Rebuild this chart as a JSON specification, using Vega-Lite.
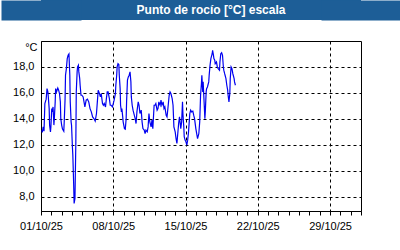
{
  "$schema": "https://vega.github.io/schema/vega-lite/v6.json",
  "background": "#ffffff",
  "padding": {"left": 0, "top": 0, "right": 40, "bottom": 19},
  "autosize": {"type": "pad"},
  "columns": 1,
  "spacing": 20,
  "config": {
    "font": "Liberation Sans"
  },
  "concat": [
    {
      "width": 320,
      "height": 20,
      "view": {"fill": "#1d5e97", "stroke": null},
      "data": {"values": [{"title": "Punto de rocío [°C] escala"}]},
      "layer": [
        {
          "mark": {"type": "text", "font": "Liberation Sans", "fontWeight": "bold", "fontSize": 12, "color": "#ffffff", "baseline": "middle", "align": "center", "dx": 10},
          "encoding": {
            "text": {"field": "title", "type": "nominal"},
            "y": {"field": "title", "type": "nominal", "axis": {"orient": "left", "title": null, "labels": false, "ticks": false, "grid": false, "domain": true, "domainColor": "#1d5e97", "domainWidth": 80, "domainCap": "butt", "offset": 0, "minExtent": 0, "maxExtent": 0}}
          }
        },
        {
          "mark": {"type": "text", "fontSize": 12, "opacity": 0},
          "encoding": {
            "text": {"field": "title", "type": "nominal"},
            "y": {"field": "title", "type": "nominal", "axis": {"orient": "right", "title": null, "labels": false, "ticks": false, "grid": false, "domain": true, "domainColor": "#1d5e97", "domainWidth": 80, "domainCap": "butt", "offset": 0, "minExtent": 0, "maxExtent": 0}}
          }
        }
      ],
      "resolve": {"axis": {"y": "independent"}}
    },
    {
      "width": 320,
      "height": 170,
      "view": {"fill": "#ffffff", "stroke": "#000000", "strokeWidth": 1},
      "data": {"values": [
        {"t":"2025-10-01T02:00","v":13.13},{"t":"2025-10-01T03:00","v":12.95},{"t":"2025-10-01T05:00","v":13.38},{"t":"2025-10-01T07:00","v":13.05},
        {"t":"2025-10-01T09:00","v":15.18},{"t":"2025-10-01T12:00","v":15.52},{"t":"2025-10-01T14:00","v":16.33},{"t":"2025-10-01T16:00","v":16.08},
        {"t":"2025-10-01T17:00","v":15.69},{"t":"2025-10-01T19:00","v":14.79},{"t":"2025-10-01T20:00","v":13.52},{"t":"2025-10-01T22:00","v":13.0},
        {"t":"2025-10-01T23:00","v":13.38},{"t":"2025-10-02T01:00","v":14.79},{"t":"2025-10-02T02:00","v":14.54},{"t":"2025-10-02T04:00","v":14.92},
        {"t":"2025-10-02T06:00","v":13.52},{"t":"2025-10-02T07:00","v":14.02},{"t":"2025-10-02T09:00","v":15.31},{"t":"2025-10-02T10:00","v":16.33},
        {"t":"2025-10-02T12:00","v":16.08},{"t":"2025-10-02T15:00","v":16.38},{"t":"2025-10-02T17:00","v":16.21},{"t":"2025-10-02T19:00","v":15.95},
        {"t":"2025-10-02T21:00","v":15.31},{"t":"2025-10-02T22:00","v":14.02},{"t":"2025-10-03T00:00","v":13.52},{"t":"2025-10-03T02:00","v":13.21},
        {"t":"2025-10-03T05:00","v":13.05},{"t":"2025-10-03T06:00","v":13.77},{"t":"2025-10-03T08:00","v":15.56},{"t":"2025-10-03T09:00","v":17.36},
        {"t":"2025-10-03T11:00","v":17.87},{"t":"2025-10-03T13:00","v":18.64},{"t":"2025-10-03T15:00","v":18.9},{"t":"2025-10-03T17:00","v":19.0},
        {"t":"2025-10-03T19:00","v":17.36},{"t":"2025-10-03T20:00","v":15.31},{"t":"2025-10-03T22:00","v":13.77},{"t":"2025-10-03T23:00","v":13.52},
        {"t":"2025-10-04T01:00","v":11.85},{"t":"2025-10-04T02:00","v":11.21},{"t":"2025-10-04T04:00","v":8.9},{"t":"2025-10-04T05:00","v":7.48},
        {"t":"2025-10-04T07:00","v":7.87},{"t":"2025-10-04T09:00","v":12.23},{"t":"2025-10-04T10:00","v":16.08},{"t":"2025-10-04T12:00","v":17.62},
        {"t":"2025-10-04T13:00","v":18.0},{"t":"2025-10-04T15:00","v":18.13},{"t":"2025-10-04T16:00","v":17.62},{"t":"2025-10-04T18:00","v":17.1},
        {"t":"2025-10-04T19:00","v":16.59},{"t":"2025-10-04T21:00","v":15.82},{"t":"2025-10-04T23:00","v":15.82},{"t":"2025-10-05T02:00","v":15.69},
        {"t":"2025-10-05T04:00","v":15.31},{"t":"2025-10-05T06:00","v":14.92},{"t":"2025-10-05T09:00","v":15.44},{"t":"2025-10-05T12:00","v":15.52},
        {"t":"2025-10-05T15:00","v":15.31},{"t":"2025-10-05T18:00","v":14.79},{"t":"2025-10-05T21:00","v":14.54},{"t":"2025-10-06T00:00","v":14.15},
        {"t":"2025-10-06T03:00","v":14.02},{"t":"2025-10-06T06:00","v":13.82},{"t":"2025-10-06T09:00","v":14.41},{"t":"2025-10-06T11:00","v":15.31},
        {"t":"2025-10-06T13:00","v":16.21},{"t":"2025-10-06T16:00","v":15.95},{"t":"2025-10-06T18:00","v":15.69},{"t":"2025-10-06T20:00","v":15.95},
        {"t":"2025-10-06T23:00","v":15.18},{"t":"2025-10-07T01:00","v":15.05},{"t":"2025-10-07T03:00","v":15.18},{"t":"2025-10-07T06:00","v":14.92},
        {"t":"2025-10-07T08:00","v":15.56},{"t":"2025-10-07T10:00","v":16.08},{"t":"2025-10-07T12:00","v":16.08},{"t":"2025-10-07T15:00","v":15.56},
        {"t":"2025-10-07T17:00","v":15.05},{"t":"2025-10-07T19:00","v":15.05},{"t":"2025-10-07T22:00","v":14.92},{"t":"2025-10-08T00:00","v":15.18},
        {"t":"2025-10-08T02:00","v":15.44},{"t":"2025-10-08T05:00","v":15.95},{"t":"2025-10-08T06:00","v":16.59},{"t":"2025-10-08T08:00","v":17.36},
        {"t":"2025-10-08T09:00","v":18.0},{"t":"2025-10-08T11:00","v":18.25},{"t":"2025-10-08T13:00","v":18.18},{"t":"2025-10-08T14:00","v":17.36},
        {"t":"2025-10-08T16:00","v":16.33},{"t":"2025-10-08T17:00","v":15.05},{"t":"2025-10-08T19:00","v":14.54},{"t":"2025-10-08T20:00","v":14.79},
        {"t":"2025-10-08T22:00","v":14.15},{"t":"2025-10-08T23:00","v":13.77},{"t":"2025-10-09T02:00","v":13.25},{"t":"2025-10-09T04:00","v":13.21},
        {"t":"2025-10-09T06:00","v":14.02},{"t":"2025-10-09T07:00","v":15.31},{"t":"2025-10-09T09:00","v":16.98},{"t":"2025-10-09T11:00","v":17.23},
        {"t":"2025-10-09T13:00","v":17.36},{"t":"2025-10-09T15:00","v":17.62},{"t":"2025-10-09T17:00","v":16.85},{"t":"2025-10-09T18:00","v":15.69},
        {"t":"2025-10-09T20:00","v":15.05},{"t":"2025-10-09T22:00","v":14.67},{"t":"2025-10-10T00:00","v":14.41},{"t":"2025-10-10T03:00","v":14.02},
        {"t":"2025-10-10T05:00","v":13.64},{"t":"2025-10-10T07:00","v":14.54},{"t":"2025-10-10T10:00","v":15.31},{"t":"2025-10-10T12:00","v":15.05},
        {"t":"2025-10-10T14:00","v":14.41},{"t":"2025-10-10T17:00","v":14.67},{"t":"2025-10-10T19:00","v":13.77},{"t":"2025-10-10T21:00","v":13.25},
        {"t":"2025-10-11T00:00","v":13.13},{"t":"2025-10-11T02:00","v":12.87},{"t":"2025-10-11T04:00","v":13.13},{"t":"2025-10-11T07:00","v":13.0},
        {"t":"2025-10-11T09:00","v":13.38},{"t":"2025-10-11T11:00","v":14.41},{"t":"2025-10-11T13:00","v":13.77},{"t":"2025-10-11T16:00","v":13.38},
        {"t":"2025-10-11T18:00","v":13.9},{"t":"2025-10-11T20:00","v":13.25},{"t":"2025-10-11T23:00","v":15.05},{"t":"2025-10-12T01:00","v":15.05},
        {"t":"2025-10-12T03:00","v":15.18},{"t":"2025-10-12T06:00","v":14.67},{"t":"2025-10-12T08:00","v":14.79},{"t":"2025-10-12T10:00","v":15.31},
        {"t":"2025-10-12T13:00","v":15.05},{"t":"2025-10-12T15:00","v":15.44},{"t":"2025-10-12T17:00","v":15.05},{"t":"2025-10-12T20:00","v":15.31},
        {"t":"2025-10-12T22:00","v":14.79},{"t":"2025-10-13T00:00","v":14.92},{"t":"2025-10-13T03:00","v":14.28},{"t":"2025-10-13T05:00","v":14.15},
        {"t":"2025-10-13T07:00","v":14.79},{"t":"2025-10-13T10:00","v":15.82},{"t":"2025-10-13T12:00","v":16.08},{"t":"2025-10-13T14:00","v":15.95},
        {"t":"2025-10-13T17:00","v":15.56},{"t":"2025-10-13T19:00","v":15.05},{"t":"2025-10-13T21:00","v":13.38},{"t":"2025-10-14T00:00","v":13.0},
        {"t":"2025-10-14T02:00","v":12.48},{"t":"2025-10-14T04:00","v":12.1},{"t":"2025-10-14T06:00","v":12.87},{"t":"2025-10-14T08:00","v":13.64},
        {"t":"2025-10-14T10:00","v":14.15},{"t":"2025-10-14T13:00","v":13.25},{"t":"2025-10-14T15:00","v":13.77},{"t":"2025-10-14T17:00","v":15.31},
        {"t":"2025-10-14T18:00","v":14.38},{"t":"2025-10-14T20:00","v":13.38},{"t":"2025-10-14T21:00","v":12.62},{"t":"2025-10-14T23:00","v":12.36},
        {"t":"2025-10-15T01:00","v":12.23},{"t":"2025-10-15T03:00","v":11.98},{"t":"2025-10-15T05:00","v":12.36},{"t":"2025-10-15T07:00","v":13.0},
        {"t":"2025-10-15T10:00","v":14.41},{"t":"2025-10-15T12:00","v":14.67},{"t":"2025-10-15T14:00","v":14.54},{"t":"2025-10-15T17:00","v":14.59},
        {"t":"2025-10-15T19:00","v":14.28},{"t":"2025-10-15T21:00","v":14.02},{"t":"2025-10-16T00:00","v":13.25},{"t":"2025-10-16T02:00","v":12.87},
        {"t":"2025-10-16T04:00","v":12.48},{"t":"2025-10-16T07:00","v":12.87},{"t":"2025-10-16T09:00","v":13.77},{"t":"2025-10-16T11:00","v":15.82},
        {"t":"2025-10-16T13:00","v":16.72},{"t":"2025-10-16T14:00","v":17.36},{"t":"2025-10-16T16:00","v":16.08},{"t":"2025-10-16T17:00","v":16.85},
        {"t":"2025-10-16T19:00","v":15.44},{"t":"2025-10-16T21:00","v":14.02},{"t":"2025-10-16T22:00","v":14.54},{"t":"2025-10-17T00:00","v":16.08},
        {"t":"2025-10-17T01:00","v":16.33},{"t":"2025-10-17T03:00","v":16.46},{"t":"2025-10-17T04:00","v":16.59},{"t":"2025-10-17T06:00","v":16.85},
        {"t":"2025-10-17T07:00","v":17.36},{"t":"2025-10-17T09:00","v":18.13},{"t":"2025-10-17T11:00","v":18.64},{"t":"2025-10-17T14:00","v":19.02},
        {"t":"2025-10-17T15:00","v":19.28},{"t":"2025-10-17T17:00","v":18.9},{"t":"2025-10-17T18:00","v":18.64},{"t":"2025-10-17T20:00","v":18.52},
        {"t":"2025-10-17T21:00","v":18.25},{"t":"2025-10-18T00:00","v":18.38},{"t":"2025-10-18T02:00","v":18.0},{"t":"2025-10-18T04:00","v":17.87},
        {"t":"2025-10-18T07:00","v":17.75},{"t":"2025-10-18T08:00","v":18.38},{"t":"2025-10-18T10:00","v":19.02},{"t":"2025-10-18T12:00","v":19.1},
        {"t":"2025-10-18T14:00","v":18.9},{"t":"2025-10-18T16:00","v":18.0},{"t":"2025-10-18T17:00","v":17.75},{"t":"2025-10-18T19:00","v":17.48},
        {"t":"2025-10-18T20:00","v":17.36},{"t":"2025-10-18T22:00","v":17.1},{"t":"2025-10-19T00:00","v":16.59},{"t":"2025-10-19T02:00","v":16.21},
        {"t":"2025-10-19T03:00","v":15.82},{"t":"2025-10-19T05:00","v":15.31},{"t":"2025-10-19T07:00","v":15.95},{"t":"2025-10-19T08:00","v":17.1},
        {"t":"2025-10-19T10:00","v":18.0},{"t":"2025-10-19T12:00","v":17.87},{"t":"2025-10-19T14:00","v":17.48},{"t":"2025-10-19T15:00","v":17.36},
        {"t":"2025-10-19T17:00","v":17.1},{"t":"2025-10-19T18:00","v":16.85},{"t":"2025-10-19T20:00","v":16.59}
      ]},
      "mark": {"type": "line", "color": "#0000f0", "strokeWidth": 1.2, "clip": true},
      "encoding": {
        "x": {
          "field": "t", "type": "temporal",
          "scale": {"domain": [{"year": 2025, "month": 10, "date": 1}, {"year": 2025, "month": 11, "date": 1}], "nice": false},
          "axis": {
            "title": null,
            "tickCount": {"interval": "day", "step": 1},
            "labelExpr": "round((datum.value - datetime(2025,9,1)) / 86400000) % 7 == 0 ? timeFormat(datum.value, '%d/%m/%y') : ''",
            "labelFlush": false,
            "labelOverlap": false,
            "labelBound": false,
            "labelFont": "Liberation Sans",
            "labelFontSize": 11,
            "labelColor": "#000000",
            "labelPadding": 5,
            "tickSize": 4,
            "tickColor": "#000000",
            "tickWidth": 1,
            "domain": true,
            "domainColor": "#000000",
            "grid": true,
            "gridColor": "#000000",
            "gridDash": [3, 3],
            "gridWidth": 1,
            "gridOpacity": {"condition": {"test": "round((datum.value - datetime(2025,9,1)) / 86400000) % 7 == 0", "value": 1}, "value": 0}
          }
        },
        "y": {
          "field": "v", "type": "quantitative",
          "scale": {"domain": [6.9, 20], "nice": false, "zero": false},
          "axis": {
            "values": [8, 10, 12, 14, 16, 18],
            "labelExpr": "replace(format(datum.value, '.1f'), '.', ',')",
            "labelFont": "Liberation Sans",
            "labelFontSize": 11,
            "labelColor": "#000000",
            "labelPadding": 7,
            "ticks": false,
            "domain": false,
            "grid": true,
            "gridColor": "#000000",
            "gridDash": [3, 3],
            "gridWidth": 1,
            "gridOpacity": 1,
            "minExtent": 40,
            "title": "°C",
            "titleAngle": 0,
            "titleX": -4,
            "titleY": 6,
            "titleAlign": "right",
            "titleBaseline": "middle",
            "titleFont": "Liberation Sans",
            "titleFontSize": 11,
            "titleFontWeight": "normal",
            "titleColor": "#000000"
          }
        }
      }
    }
  ]
}
